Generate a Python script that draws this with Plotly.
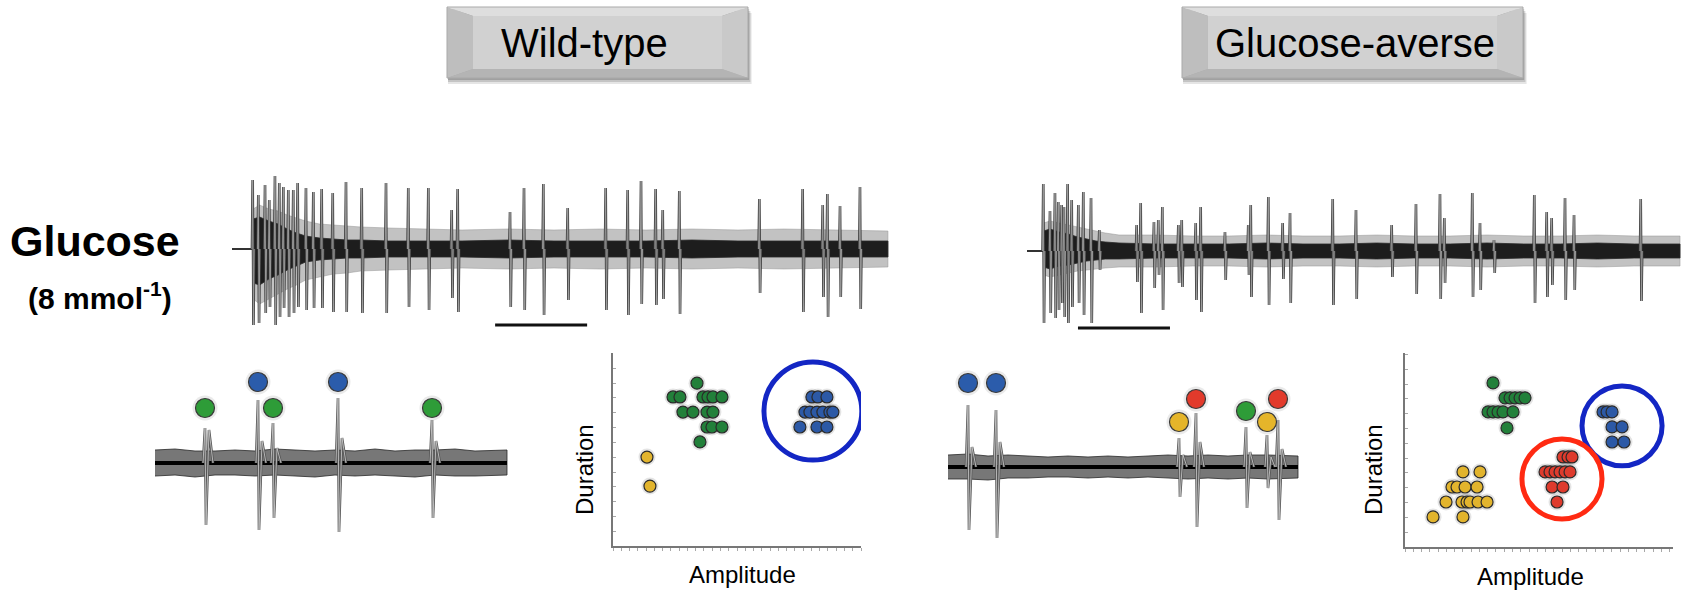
import plotly.graph_objects as go

W, H = 1687, 592
FONT = "Liberation Sans, Arial, Helvetica, sans-serif"

# ---------------- extracellular recordings, glucose 8 mmol/l ----------------
# time in s, amplitude in µV (baseline = 0)
wt_pre_end = 2.25
wt_spike_t = [2.25, 2.86, 3.59, 4.05, 4.67, 5.14, 5.58, 6.12, 6.66, 7.14,
              8.04, 8.84, 9.75, 10.95, 12.39, 14.10, 16.74, 19.16, 21.34, 23.88,
              24.53, 30.22, 31.74, 33.84, 36.49, 40.62, 43.01, 44.46, 46.05, 46.82,
              48.62, 57.32, 62.03, 64.21, 64.71, 66.09, 68.26]
wt_spike_peak = [69, 54, 64, 49, 73, 66, 62, 59, 59, 66,
                 61, 57, 60, 56, 67, 61, 66, 61, 61, 39,
                 60, 37, 61, 65, 41, 61, 59, 68, 60, 39,
                 58, 50, 60, 44, 55, 43, 62]
wt_spike_trough = [-76, -74, -64, -58, -76, -68, -59, -68, -64, -58,
                   -61, -59, -59, -63, -63, -64, -64, -58, -61, -49,
                   -63, -58, -61, -66, -51, -61, -66, -55, -56, -50,
                   -65, -44, -63, -48, -68, -48, -60]
# background noise envelope (outer fringe and dense core)
wt_env_t = [2.3, 3.0, 4.0, 5.0, 6.0, 7.0, 8.0, 9.5, 11, 12.5, 14, 17, 20, 25,
            30, 35, 40, 45, 50, 55, 60, 65, 71.3]
wt_env_hi = [40, 44, 40, 38, 34, 31, 28, 25, 24, 23, 22, 21, 20, 19,
             20, 19, 20, 19, 20, 19, 20, 19, 18]
wt_env_lo = [50, 55, 50, 45, 40, 36, 31, 28, 25, 24, 22, 21, 20, 19,
             20, 19, 20, 19, 20, 19, 20, 19, 18]
wt_core_hi = [30, 32, 28, 25, 20, 16, 13, 11, 10, 9, 9, 8, 8, 8,
              9, 8, 8, 8, 9, 8, 8, 8, 8]
wt_core_lo = [34, 36, 30, 26, 21, 17, 13, 11, 10, 9, 9, 8, 8, 8,
              9, 8, 8, 8, 9, 8, 8, 8, 8]

ga_pre_end = 1.77
ga_spike_t = [1.77, 2.50, 3.04, 3.40, 3.77, 4.02, 4.42, 4.86, 5.58, 6.12,
              6.96, 7.86, 11.92, 12.36, 13.80, 14.27, 14.71, 16.45, 16.82, 18.34,
              18.88, 21.52, 24.05, 24.32, 26.23, 27.79, 28.59, 33.23, 35.76, 39.64,
              42.28, 44.89, 45.36, 48.40, 49.24, 50.76, 55.14, 56.49, 57.03, 58.48,
              59.46, 66.71]
ga_spike_peak = [67, 40, 58, 49, 46, 44, 67, 51, 46, 59,
                 53, 21, 26, 48, 29, 31, 44, 26, 31, 28,
                 44, 19, 26, 46, 54, 28, 38, 52, 41, 26,
                 47, 57, 33, 58, 28, 11, 56, 39, 33, 53,
                 36, 52]
ga_spike_trough = [-72, -62, -67, -59, -52, -66, -72, -56, -52, -64,
                   -72, -19, -31, -62, -37, -24, -59, -32, -36, -49,
                   -61, -29, -24, -46, -54, -28, -52, -54, -48, -26,
                   -43, -48, -32, -46, -39, -22, -52, -46, -34, -49,
                   -39, -50]
ga_env_t = [1.8, 2.5, 3.5, 4.5, 5.5, 6.5, 7.5, 8.5, 10, 14, 18, 22, 26, 30,
            34, 38, 42, 46, 50, 54, 58, 62, 66, 70.98]
ga_env_hi = [28, 30, 28, 26, 24, 22, 20, 18, 16, 16, 15, 15, 16, 15,
             15, 16, 15, 15, 16, 15, 15, 16, 15, 15]
ga_env_lo = [24, 26, 24, 22, 20, 19, 18, 17, 16, 16, 15, 15, 16, 15,
             15, 16, 15, 15, 16, 15, 15, 16, 15, 15]
ga_core_hi = [20, 22, 19, 17, 14, 12, 10, 9, 8, 7, 7, 7, 8, 7,
              7, 8, 7, 7, 8, 7, 7, 8, 7, 7]
ga_core_lo = [16, 18, 15, 14, 12, 10, 9, 8, 8, 7, 7, 7, 8, 7,
              7, 8, 7, 7, 8, 7, 7, 8, 7, 7]

scale_bar_s = 10
wt_bar_start, wt_bar_level = 28.6, -76
ga_bar_start, ga_bar_level = 5.54, -77

# ---------------- expanded excerpts with sorted units (time in ms) ----------------
wt_snip_t = [50, 103, 118, 183, 277]
wt_snip_peak = [35, 63, 40, 65, 43]
wt_snip_trough = [-62, -67, -55, -69, -55]
wt_snip_rebound = [33, 22, 15, 25, 22]
wt_snip_unit = ["green", "blue", "green", "blue", "green"]
wt_snip_env_t = [0, 20, 40, 60, 80, 100, 120, 140, 160, 180, 200, 220, 240, 260, 280, 300, 320, 352]
wt_snip_env_hi = [13, 14, 12, 12, 13, 12, 14, 13, 12, 13, 12, 14, 12, 13, 13, 14, 12, 13]
wt_snip_env_lo = [13, 12, 14, 12, 12, 13, 12, 13, 14, 12, 13, 12, 13, 14, 12, 13, 13, 12]

ga_snip_t = [20, 48, 231, 248, 298, 319, 330]
ga_snip_peak = [62, 57, 29, 54, 40, 32, 47]
ga_snip_trough = [-63, -71, -30, -60, -41, -21, -53]
ga_snip_rebound = [20, 25, 12, 25, 15, 10, 18]
ga_snip_unit = ["blue", "blue", "yellow", "red", "green", "yellow", "red"]
ga_snip_env_t = [0, 20, 40, 60, 80, 100, 120, 140, 160, 180, 200, 220, 240, 260, 280, 300, 320, 350]
ga_snip_env_hi = [12, 13, 11, 12, 11, 10, 11, 10, 11, 10, 11, 12, 11, 12, 11, 12, 12, 11]
ga_snip_env_lo = [12, 12, 13, 11, 11, 10, 10, 11, 10, 11, 10, 11, 12, 11, 12, 11, 12, 11]

# ---------------- spike sorting: amplitude vs duration ----------------
wt_green_amp = [10.16, 7.26, 8.10, 10.88, 11.49, 12.09, 13.18, 8.46, 9.67, 11.37, 12.09, 11.37, 11.97, 13.18, 10.52]
wt_green_dur = [11.0, 10.07, 10.07, 10.07, 10.07, 10.07, 10.07, 9.05, 9.05, 9.05, 9.05, 8.04, 8.04, 8.04, 7.03]
wt_yellow_amp = [4.11, 4.47]
wt_yellow_dur = [6.01, 4.05]
wt_blue_amp = [24.06, 24.79, 25.88, 23.22, 23.82, 24.67, 25.39, 26.24, 26.60, 22.61, 24.67, 25.88]
wt_blue_dur = [10.07, 10.07, 10.07, 9.05, 9.05, 9.05, 9.05, 9.05, 9.05, 8.04, 8.04, 8.04]

ga_green_amp = [10.64, 12.09, 12.70, 13.30, 13.91, 14.51, 10.04, 10.64, 11.25, 11.85, 13.06, 12.33]
ga_green_dur = [11.08, 10.07, 10.07, 10.07, 10.07, 10.07, 9.12, 9.12, 9.12, 9.12, 9.12, 8.04]
ga_blue_amp = [23.94, 24.43, 25.03, 25.03, 26.24, 25.03, 26.48]
ga_blue_dur = [9.12, 9.12, 9.12, 8.11, 8.11, 7.09, 7.09]
ga_red_amp = [19.10, 19.71, 20.19, 16.93, 17.53, 18.14, 18.74, 19.35, 19.95, 17.78, 19.10, 18.38]
ga_red_dur = [6.08, 6.08, 6.08, 5.07, 5.07, 5.07, 5.07, 5.07, 5.07, 4.05, 4.05, 3.04]
ga_yellow_amp = [7.01, 9.07, 5.68, 6.29, 7.26, 8.71, 4.96, 6.89, 7.50, 7.86, 8.83, 9.92, 3.39, 7.01]
ga_yellow_dur = [5.07, 5.07, 4.05, 4.05, 4.05, 4.05, 3.04, 3.04, 3.04, 3.04, 3.04, 3.04, 2.03, 2.03]

# highlighted clusters: (unit, centre amplitude, centre duration, half-width, half-height)
wt_highlight = [("blue", 24.18, 9.12, 5.92, 3.31)]
ga_highlight = [("blue", 26.24, 8.18, 4.84, 2.70), ("red", 18.98, 4.59, 4.84, 2.70)]

# ---------------- styling ----------------
UNIT_COLOR = {"green": "#2e9c38", "blue": "#2b5cab", "yellow": "#e5b52a", "red": "#e23a2b"}
SCATTER_COLOR = {"green": "#22803a", "blue": "#2c59a6", "yellow": "#e2b42d", "red": "#de3b2d"}
RING_COLOR = {"blue": "#1326c4", "red": "#ff2a12"}
LABEL_LEVEL_WT = {"green": 55, "blue": 81}
LABEL_LEVEL_GA = {"blue": 84, "red": 68, "green": 56, "yellow": 45}


def px_x(a, b):
    return [a / W, b / W]


def px_y(top, bot):
    return [1 - bot / H, 1 - top / H]


def spike_path(times, peaks, troughs, rebounds=None, dt=0.08):
    xs, ys = [], []
    for i, t in enumerate(times):
        if rebounds is None:
            xs += [t - dt, t, t + dt, t + 2 * dt, None]
            ys += [0, peaks[i], troughs[i], 0, None]
        else:
            xs += [t - 2 * dt, t, t + dt, t + 4 * dt, t + 8 * dt, None]
            ys += [0, peaks[i], troughs[i], rebounds[i], 0, None]
    return xs, ys


def band(t, hi, lo):
    return list(t) + list(t[::-1]), list(hi) + [-v for v in lo[::-1]]


fig = go.Figure()


def add_line(ax, x, y, color, width):
    fig.add_trace(go.Scatter(x=x, y=y, mode="lines", line=dict(color=color, width=width),
                             xaxis=ax[0], yaxis=ax[1], hoverinfo="skip"))


def add_band(ax, t, hi, lo, fill, edge):
    bx, by = band(t, hi, lo)
    fig.add_trace(go.Scatter(x=bx, y=by, fill="toself", mode="lines", fillcolor=fill,
                             line=dict(color=edge, width=1),
                             xaxis=ax[0], yaxis=ax[1], hoverinfo="skip"))


def add_recording(ax, pre_end, spike_t, peak, trough, env_t, env_hi, env_lo,
                  core_hi, core_lo, bar_start, bar_level):
    add_line(ax, [0, pre_end], [0, 0], "#333", 2)
    add_band(ax, env_t, env_hi, env_lo, "rgba(120,120,120,0.45)", "rgba(150,150,150,0.5)")
    add_band(ax, env_t, core_hi, core_lo, "rgba(15,15,15,0.92)", "rgba(40,40,40,0.8)")
    sx, sy = spike_path(spike_t, peak, trough, dt=0.08)
    add_line(ax, sx, sy, "#3c3c3c", 2.6)
    add_line(ax, sx, sy, "#a0a0a0", 0.9)
    add_line(ax, [bar_start, bar_start + scale_bar_s], [bar_level, bar_level], "#111", 3)


def add_excerpt(ax, spike_t, peak, trough, rebound, units, env_t, env_hi, env_lo, levels):
    add_band(ax, env_t, env_hi, env_lo, "rgba(35,35,35,0.62)", "rgba(40,40,40,0.8)")
    add_line(ax, [env_t[0], env_t[-1]], [0, 0], "#000", 4)
    sx, sy = spike_path(spike_t, peak, trough, rebound, dt=1.0)
    add_line(ax, sx, sy, "#555", 2.6)
    add_line(ax, sx, sy, "#cfcfcf", 0.8)
    my = [levels[u] for u in units]
    fig.add_trace(go.Scatter(x=spike_t, y=my, mode="markers", cliponaxis=False,
                             marker=dict(size=25, color="rgba(140,140,140,0.18)"),
                             xaxis=ax[0], yaxis=ax[1], hoverinfo="skip"))
    fig.add_trace(go.Scatter(x=spike_t, y=my, mode="markers", cliponaxis=False,
                             marker=dict(size=19, color=[UNIT_COLOR[u] for u in units],
                                         line=dict(color="#3a3a3a", width=1.2)),
                             xaxis=ax[0], yaxis=ax[1], hoverinfo="skip"))


def add_clusters(ax, clusters, highlights):
    xa, ya = ax
    for unit, amp, dur in clusters:
        fig.add_trace(go.Scatter(x=amp, y=dur, mode="markers", cliponaxis=False,
                                 marker=dict(size=17, color="rgba(130,130,130,0.22)"),
                                 xaxis=xa, yaxis=ya, hoverinfo="skip"))
        fig.add_trace(go.Scatter(x=amp, y=dur, mode="markers", cliponaxis=False,
                                 marker=dict(size=12, color=SCATTER_COLOR[unit],
                                             line=dict(color="#2a2a2a", width=1.2)),
                                 xaxis=xa, yaxis=ya, hoverinfo="skip"))
    for unit, ca, cd, ra, rd in highlights:
        fig.add_shape(type="circle", xref=xa, yref=ya,
                      x0=ca - ra, x1=ca + ra, y0=cd - rd, y1=cd + rd,
                      line=dict(color=RING_COLOR[unit], width=5), layer="above")


add_recording(("x", "y"), wt_pre_end, wt_spike_t, wt_spike_peak, wt_spike_trough,
              wt_env_t, wt_env_hi, wt_env_lo, wt_core_hi, wt_core_lo,
              wt_bar_start, wt_bar_level)
add_recording(("x2", "y2"), ga_pre_end, ga_spike_t, ga_spike_peak, ga_spike_trough,
              ga_env_t, ga_env_hi, ga_env_lo, ga_core_hi, ga_core_lo,
              ga_bar_start, ga_bar_level)
add_excerpt(("x3", "y3"), wt_snip_t, wt_snip_peak, wt_snip_trough,
            wt_snip_rebound, wt_snip_unit, wt_snip_env_t, wt_snip_env_hi, wt_snip_env_lo,
            LABEL_LEVEL_WT)
add_excerpt(("x4", "y4"), ga_snip_t, ga_snip_peak, ga_snip_trough,
            ga_snip_rebound, ga_snip_unit, ga_snip_env_t, ga_snip_env_hi, ga_snip_env_lo,
            LABEL_LEVEL_GA)
add_clusters(("x5", "y5"),
             [("yellow", wt_yellow_amp, wt_yellow_dur),
              ("green", wt_green_amp, wt_green_dur),
              ("blue", wt_blue_amp, wt_blue_dur)], wt_highlight)
add_clusters(("x6", "y6"),
             [("yellow", ga_yellow_amp, ga_yellow_dur),
              ("green", ga_green_amp, ga_green_dur),
              ("red", ga_red_amp, ga_red_dur),
              ("blue", ga_blue_amp, ga_blue_dur)], ga_highlight)

PX_PER_S = 9.2
hidden = dict(visible=False, fixedrange=True)
layout_axes = {
    # full recordings: time 0 sits at the left end of each trace
    "xaxis": dict(domain=px_x(226, 895), range=[(226 - 232) / PX_PER_S, (895 - 232) / PX_PER_S], **hidden),
    "yaxis": dict(domain=px_y(165, 335), range=[249 - 335, 249 - 165], **hidden),
    "xaxis2": dict(domain=px_x(1020, 1686), range=[(1020 - 1027) / PX_PER_S, (1686 - 1027) / PX_PER_S], **hidden),
    "yaxis2": dict(domain=px_y(165, 335), range=[251 - 335, 251 - 165], **hidden),
    # excerpts
    "xaxis3": dict(domain=px_x(148, 512), range=[-7, 357], **hidden),
    "yaxis3": dict(domain=px_y(365, 545), range=[463 - 545, 463 - 365], **hidden),
    "xaxis4": dict(domain=px_x(940, 1305), range=[-8, 357], **hidden),
    "yaxis4": dict(domain=px_y(365, 545), range=[467 - 545, 467 - 365], **hidden),
}
cluster_axis = dict(showline=True, linecolor="#777", linewidth=2, mirror=False,
                    showgrid=False, zeroline=False, showticklabels=False,
                    ticklen=3, tickwidth=1, tickcolor="#a8a8a8", dtick=1, tick0=0,
                    fixedrange=True)
layout_axes["xaxis5"] = dict(domain=px_x(613, 861), range=[0, 30], ticks="outside", **cluster_axis)
layout_axes["yaxis5"] = dict(domain=px_y(353, 546), range=[0, 13.04], ticks="inside", **cluster_axis)
layout_axes["xaxis6"] = dict(domain=px_x(1405, 1673), range=[0, 32.4], ticks="outside", **cluster_axis)
layout_axes["yaxis6"] = dict(domain=px_y(353, 547), range=[0, 13.1], ticks="inside", **cluster_axis)
for i in (2, 3, 4, 5, 6):
    layout_axes[f"xaxis{i}"]["anchor"] = f"y{i}"
    layout_axes[f"yaxis{i}"]["anchor"] = f"x{i}"

fig.update_layout(width=W, height=H, margin=dict(l=0, r=0, t=0, b=0),
                  paper_bgcolor="white", plot_bgcolor="rgba(0,0,0,0)",
                  showlegend=False, font=dict(family=FONT, color="#000"),
                  **layout_axes)


# ---------------- bevelled title boxes ----------------
def P(x, y):
    return f"{x / W:.5f},{1 - y / H:.5f}"


def bevel_box(x0, y0, x1, y1, side, edge):
    shapes = []
    for off, alpha in ((6, 0.10), (4, 0.14), (2, 0.18)):
        shapes.append(dict(type="rect", xref="paper", yref="paper", layer="below",
                           x0=(x0 + 1) / W, x1=(x1 + off * 0.6) / W,
                           y0=1 - (y1 + off) / H, y1=1 - (y0 + off) / H,
                           line=dict(width=0), fillcolor=f"rgba(0,0,0,{alpha})"))
    ix0, iy0, ix1, iy1 = x0 + side, y0 + edge, x1 - side, y1 - edge
    faces = [
        ([(x0, y0), (x1, y0), (ix1, iy0), (ix0, iy0)], "#dedede"),   # top
        ([(x0, y1), (x1, y1), (ix1, iy1), (ix0, iy1)], "#b4b4b4"),   # bottom
        ([(x0, y0), (ix0, iy0), (ix0, iy1), (x0, y1)], "#bebebe"),   # left
        ([(x1, y0), (ix1, iy0), (ix1, iy1), (x1, y1)], "#c9c9c9"),   # right
    ]
    shapes.append(dict(type="rect", xref="paper", yref="paper", layer="below",
                       x0=ix0 / W, x1=ix1 / W, y0=1 - iy1 / H, y1=1 - iy0 / H,
                       line=dict(width=0), fillcolor="#d1d1d1"))
    for pts, col in faces:
        path = "M " + " L ".join(P(*p) for p in pts) + " Z"
        shapes.append(dict(type="path", xref="paper", yref="paper", layer="below",
                           path=path, line=dict(width=0), fillcolor=col))
    shapes.append(dict(type="rect", xref="paper", yref="paper", layer="below",
                       x0=x0 / W, x1=x1 / W, y0=1 - y1 / H, y1=1 - y0 / H,
                       line=dict(color="#a9a9a9", width=1), fillcolor="rgba(0,0,0,0)"))
    return shapes


for s in bevel_box(447, 7, 748, 78, 26, 9) + bevel_box(1182, 7, 1523, 78, 26, 9):
    fig.add_shape(**s)


def label(text, x, y, size, bold=False, angle=0):
    fig.add_annotation(text=f"<b>{text}</b>" if bold else text,
                       x=x / W, y=1 - y / H, xref="paper", yref="paper",
                       showarrow=False, textangle=angle, xanchor="center", yanchor="middle",
                       font=dict(family=FONT, size=size, color="#000"))


label("Wild-type", 584, 43, 40)
label("Glucose-averse", 1355, 43, 40)
label("Glucose", 95, 241, 43, bold=True)
label("(8 mmol<sup>-1</sup>)", 100, 296, 30, bold=True)
label("Duration", 584, 470, 24, angle=-90)
label("Amplitude", 742, 574, 24)
label("Duration", 1373, 470, 24, angle=-90)
label("Amplitude", 1530, 576, 24)

fig.write_html("out.html")
